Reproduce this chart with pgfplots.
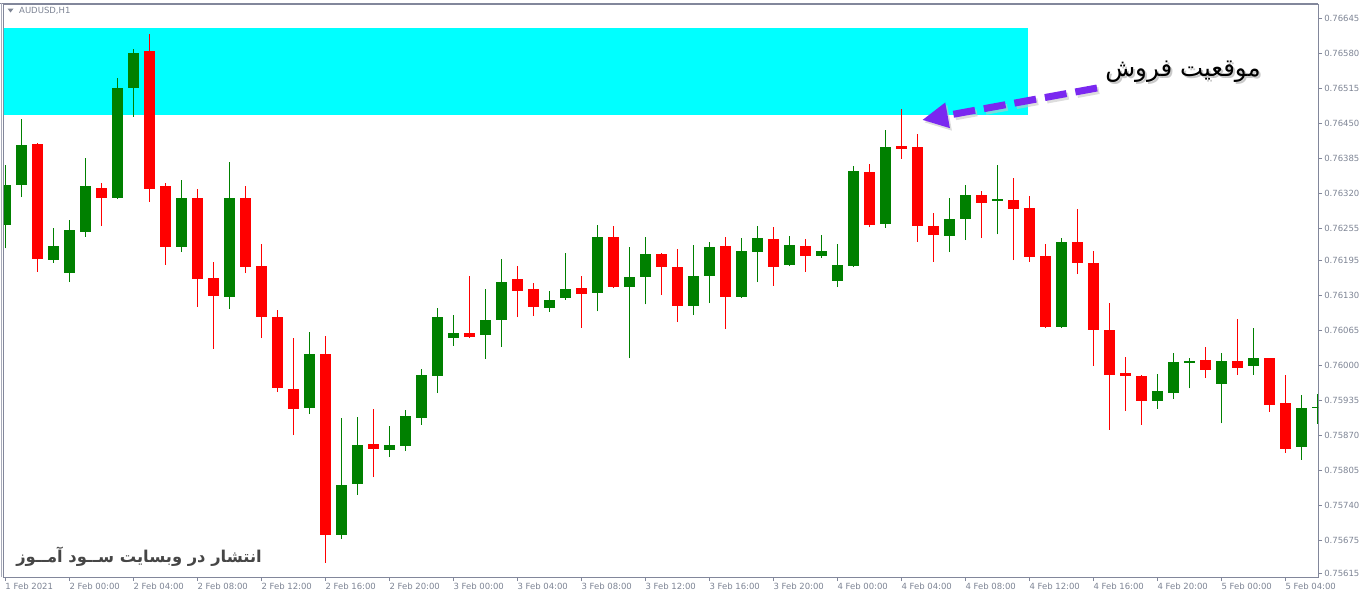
\documentclass[border=0pt]{standalone}
\usepackage{fontspec}
\usepackage{pgfplots}
\usepackage{pgfplotstable}
\pgfplotsset{compat=1.18}
\usetikzlibrary{arrows.meta}
\setmainfont{DejaVu Sans}
\newfontfamily\arabicfont[Script=Arabic]{DejaVu Sans}
\TeXXeTstate=1
\definecolor{cgreen}{RGB}{0,128,0}
\definecolor{cred}{RGB}{255,0,0}
\definecolor{ccyan}{RGB}{0,255,255}
\definecolor{framegray}{RGB}{130,135,155}
\definecolor{labelgray}{RGB}{125,132,148}
\definecolor{arrowviolet}{RGB}{122,40,240}
\definecolor{wmgray}{RGB}{70,70,70}

% t = bar index (1 h bars, 0 = 1 Feb 20:00)
\pgfplotstableread{
t O H L C
0 0.76263 0.76373 0.76218 0.76337
1 0.76337 0.76458 0.76313 0.76412
3 0.76198 0.76256 0.76191 0.76224
4 0.76172 0.76270 0.76155 0.76252
5 0.76250 0.76386 0.76239 0.76334
7 0.76313 0.76534 0.76310 0.76517
8 0.76517 0.76588 0.76462 0.76582
11 0.76220 0.76345 0.76211 0.76311
14 0.76129 0.76378 0.76105 0.76313
19 0.75923 0.76062 0.75910 0.76023
21 0.75687 0.75903 0.75678 0.75780
22 0.75780 0.75905 0.75760 0.75853
24 0.75845 0.75888 0.75830 0.75853
25 0.75851 0.75918 0.75842 0.75907
26 0.75903 0.75994 0.75890 0.75983
27 0.75981 0.76107 0.75949 0.76090
28 0.76051 0.76094 0.76037 0.76061
30 0.76057 0.76142 0.76012 0.76085
31 0.76085 0.76198 0.76035 0.76157
34 0.76109 0.76139 0.76100 0.76124
35 0.76126 0.76209 0.76122 0.76144
37 0.76135 0.76261 0.76101 0.76239
39 0.76146 0.76220 0.76014 0.76165
40 0.76165 0.76239 0.76114 0.76207
43 0.76111 0.76224 0.76094 0.76167
44 0.76167 0.76230 0.76116 0.76220
46 0.76128 0.76237 0.76126 0.76213
47 0.76211 0.76259 0.76155 0.76237
49 0.76187 0.76241 0.76185 0.76224
51 0.76205 0.76243 0.76200 0.76213
52 0.76159 0.76226 0.76146 0.76187
53 0.76185 0.76371 0.76183 0.76361
55 0.76265 0.76438 0.76256 0.76408
59 0.76243 0.76311 0.76211 0.76274
60 0.76272 0.76335 0.76233 0.76317
62 0.76306 0.76373 0.76244 0.76310
66 0.76072 0.76237 0.76070 0.76230
72 0.75934 0.75985 0.75920 0.75953
73 0.75951 0.76023 0.75938 0.76007
74 0.76007 0.76014 0.75958 0.76010
76 0.75966 0.76023 0.75893 0.76010
78 0.75999 0.76070 0.75983 0.76014
81 0.75849 0.75946 0.75825 0.75921
82 0.75923 0.75947 0.75892 0.75925
}\greendata

\pgfplotstableread{
t O H L C
2 0.76412 0.76413 0.76174 0.76198
6 0.76332 0.76339 0.76259 0.76313
9 0.76584 0.76616 0.76304 0.76328
10 0.76335 0.76339 0.76187 0.76220
12 0.76313 0.76328 0.76109 0.76161
13 0.76163 0.76193 0.76031 0.76131
15 0.76313 0.76334 0.76172 0.76185
16 0.76187 0.76226 0.76051 0.76092
17 0.76090 0.76103 0.75951 0.75958
18 0.75957 0.76051 0.75871 0.75921
20 0.76022 0.76055 0.75634 0.75686
23 0.75855 0.75920 0.75793 0.75845
29 0.76061 0.76167 0.76051 0.76055
32 0.76161 0.76185 0.76090 0.76140
33 0.76142 0.76153 0.76092 0.76109
36 0.76144 0.76167 0.76070 0.76133
38 0.76239 0.76259 0.76144 0.76146
41 0.76207 0.76209 0.76131 0.76183
42 0.76185 0.76217 0.76081 0.76111
45 0.76222 0.76239 0.76068 0.76128
48 0.76237 0.76257 0.76148 0.76185
50 0.76224 0.76235 0.76174 0.76205
54 0.76361 0.76374 0.76257 0.76263
56 0.76408 0.76477 0.76384 0.76404
57 0.76406 0.76430 0.76230 0.76259
58 0.76261 0.76283 0.76193 0.76243
61 0.76317 0.76324 0.76237 0.76302
63 0.76310 0.76348 0.76196 0.76293
64 0.76295 0.76315 0.76193 0.76204
65 0.76205 0.76226 0.76070 0.76074
67 0.76230 0.76291 0.76170 0.76191
68 0.76193 0.76213 0.75999 0.76068
69 0.76068 0.76116 0.75881 0.75985
70 0.75986 0.76016 0.75916 0.75981
71 0.75983 0.75983 0.75890 0.75936
75 0.76010 0.76035 0.75977 0.75992
77 0.76010 0.76087 0.75983 0.75997
79 0.76014 0.76014 0.75914 0.75927
80 0.75931 0.75983 0.75838 0.75847
}\reddata

\begin{document}
\begin{tikzpicture}
\path[use as bounding box] (0pt,0pt) rectangle (1364pt,-597pt);
\begin{axis}[
  at={(4pt,-577pt)}, anchor=south west,
  scale only axis, width=1314pt, height=573pt,
  xmin=-0.08125, xmax=82.04375,
  ymin=0.756075, ymax=0.766716,
  axis line style={draw=framegray, line width=1pt},
  scaled y ticks=false,
  xtick={0,4,...,80},
  xticklabels={1 Feb 2021, 2 Feb 00:00, 2 Feb 04:00, 2 Feb 08:00, 2 Feb 12:00, 2 Feb 16:00, 2 Feb 20:00,
    3 Feb 00:00, 3 Feb 04:00, 3 Feb 08:00, 3 Feb 12:00, 3 Feb 16:00, 3 Feb 20:00,
    4 Feb 00:00, 4 Feb 04:00, 4 Feb 08:00, 4 Feb 12:00, 4 Feb 16:00, 4 Feb 20:00,
    5 Feb 00:00, 5 Feb 04:00},
  ytick={0.76645,0.76580,0.76515,0.76450,0.76385,0.76320,0.76255,0.76195,0.76130,0.76065,0.76000,0.75935,0.75870,0.75805,0.75740,0.75675,0.75615},
  yticklabels={0.76645,0.76580,0.76515,0.76450,0.76385,0.76320,0.76255,0.76195,0.76130,0.76065,0.76000,0.75935,0.75870,0.75805,0.75740,0.75675,0.75615},
  xtick pos=bottom, ytick pos=right, yticklabel pos=right,
  tick align=outside, major tick length=4pt,
  tick style={draw=framegray, line width=0.8pt},
  ticklabel style={font=\fontsize{8.5}{10}\selectfont, text=labelgray},
  xticklabel style={anchor=north west, inner sep=0pt, xshift=0pt, yshift=-2pt},
  yticklabel style={anchor=west, inner sep=0pt, xshift=2pt},
]
% sell zone
\addplot[fill=ccyan, draw=none, forget plot] coordinates {(-0.3,0.76465) (63.92,0.76465) (63.92,0.76627) (-0.3,0.76627)} -- cycle;
% wicks
\addplot[draw=none, mark=none, forget plot, error bars/.cd, y dir=plus, y explicit, error mark=none,
  error bar style={draw=cgreen, line width=1pt}]
  table[x=t, y=L, y error expr=\thisrow{H}-\thisrow{L}] \greendata;
\addplot[draw=none, mark=none, forget plot, error bars/.cd, y dir=plus, y explicit, error mark=none,
  error bar style={draw=cred, line width=1pt}]
  table[x=t, y=L, y error expr=\thisrow{H}-\thisrow{L}] \reddata;
% bodies
\addplot[draw=none, mark=none, forget plot, error bars/.cd, y dir=both, y explicit, error mark=none,
  error bar style={draw=cgreen, line width=11pt}]
  table[x=t, y expr=(\thisrow{O}+\thisrow{C})/2, y error expr=(\thisrow{C}-\thisrow{O})/2] \greendata;
\addplot[draw=none, mark=none, forget plot, error bars/.cd, y dir=both, y explicit, error mark=none,
  error bar style={draw=cred, line width=11pt}]
  table[x=t, y expr=(\thisrow{O}+\thisrow{C})/2, y error expr=(\thisrow{O}-\thisrow{C})/2] \reddata;
\end{axis}
% window header
\draw[framegray, line width=1pt] (0pt,-3.5pt) -- (1318pt,-3.5pt);
\draw[framegray!70, line width=1pt] (1pt,-3pt) -- (1pt,-577pt);
\fill[labelgray] (7.5pt,-8.5pt) -- (13.5pt,-8.5pt) -- (10.5pt,-12.5pt) -- cycle;
\node[anchor=west, inner sep=0pt, font=\fontsize{8.5}{10}\selectfont, text=labelgray] at (19pt,-11pt) {AUDUSD,H1};
% arrow with shadow
\draw[line width=7pt, gray!45, opacity=0.6, dash pattern=on 22pt off 9pt, -{Triangle[length=26pt,width=24pt]}]
  (1099pt,-90.5pt) -- (924pt,-122.5pt);
\draw[line width=7pt, arrowviolet, dash pattern=on 22pt off 9pt, -{Triangle[length=26pt,width=24pt]}]
  (1097pt,-88pt) -- (922pt,-120pt);
% labels
\node[text=gray!60, opacity=0.7, font=\arabicfont\fontsize{24.5}{28}\selectfont] at (1185pt,-74pt) {\beginR موقعیت فروش\endR};
\node[text=black, font=\arabicfont\fontsize{24.5}{28}\selectfont] at (1183pt,-72pt) {\beginR موقعیت فروش\endR};
\node[text=wmgray, font=\arabicfont\bfseries\fontsize{16.3}{20}\selectfont] at (139pt,-557pt) {\beginR انتشار در وبسایت ســود آمــوز\endR};
\end{tikzpicture}
\end{document}
